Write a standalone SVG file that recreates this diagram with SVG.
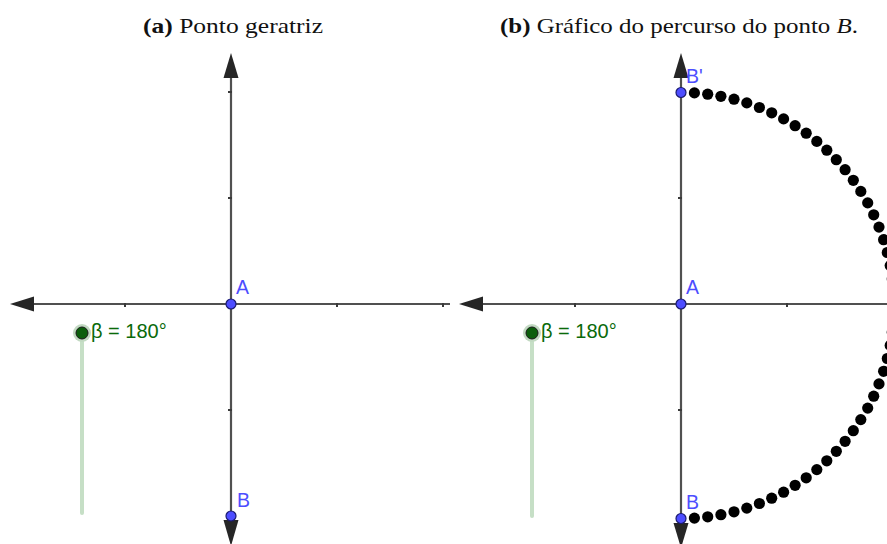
<svg xmlns="http://www.w3.org/2000/svg" width="887" height="544" viewBox="0 0 887 544">
<style>
.title{font-family:"Liberation Serif","DejaVu Serif",serif;font-size:21px;fill:#111}
.axis{stroke:#505050;stroke-width:2.2;fill:none}
.tick{stroke:#3a3a3a;stroke-width:2}
.head{fill:#262626}
.pt{fill:#4d4dff;stroke:#1a1a70;stroke-width:1.2}
.lbl{font-family:"Liberation Sans",Arial,sans-serif;font-size:19.5px;fill:#4d4dff}
.sl{stroke:#c6dfc6;stroke-width:4;stroke-linecap:round}
.halo{fill:#c2d9c2}
.spt{fill:#0b5e0b;stroke:#1a1a1a;stroke-width:1}
.stxt{font-family:"Liberation Sans",Arial,sans-serif;font-size:20px;fill:#0a6a0a}
.dot{fill:#000}
</style>
<defs>
<circle id="d" r="5.6" class="dot"/>
</defs>

<g id="titles">
<text class="title" x="233" y="33" text-anchor="middle" textLength="180" lengthAdjust="spacingAndGlyphs"><tspan font-weight="bold">(a)</tspan> Ponto geratriz</text>
<text class="title" x="679" y="33" text-anchor="middle" textLength="358" lengthAdjust="spacingAndGlyphs"><tspan font-weight="bold">(b)</tspan> Gráfico do percurso do ponto <tspan font-style="italic">B</tspan>.</text>
</g>

<g id="connectors">
<line class="axis" x1="231" y1="70" x2="231" y2="525"/>
<line class="axis" x1="28" y1="304" x2="450" y2="304"/>
<polygon class="head" points="231,53 223.5,78 238.5,78"/>
<polygon class="head" points="223.5,520 238.5,520 231,546"/>
<polygon class="head" points="10,304 34,296.5 34,311.5"/>
<line class="tick" x1="125" y1="303" x2="125" y2="307"/>
<line class="tick" x1="337" y1="303" x2="337" y2="307"/>
<line class="tick" x1="443" y1="303" x2="443" y2="307"/>
<line class="tick" x1="228" y1="92" x2="232" y2="92"/>
<line class="tick" x1="228" y1="198" x2="232" y2="198"/>
<line class="tick" x1="228" y1="410" x2="232" y2="410"/>
<line class="axis" x1="681" y1="70" x2="681" y2="528"/>
<line class="axis" x1="476" y1="304" x2="887" y2="304"/>
<polygon class="head" points="681,53 673.5,78 688.5,78"/>
<polygon class="head" points="673.5,523 688.5,523 681,548"/>
<polygon class="head" points="459,304 483,296.5 483,311.5"/>
<line class="tick" x1="575" y1="303" x2="575" y2="307"/>
<line class="tick" x1="787" y1="303" x2="787" y2="307"/>
<line class="tick" x1="678" y1="198" x2="682" y2="198"/>
<line class="tick" x1="678" y1="410" x2="682" y2="410"/>
</g>

<g id="trace">
<use href="#d" x="694.4" y="92.9"/><use href="#d" x="707.7" y="94.2"/><use href="#d" x="720.9" y="96.3"/><use href="#d" x="734.0" y="99.2"/>
<use href="#d" x="746.8" y="102.9"/><use href="#d" x="759.4" y="107.5"/><use href="#d" x="771.7" y="112.8"/><use href="#d" x="783.6" y="118.9"/>
<use href="#d" x="795.1" y="125.7"/><use href="#d" x="806.2" y="133.2"/><use href="#d" x="816.8" y="141.4"/><use href="#d" x="826.8" y="150.2"/>
<use href="#d" x="836.3" y="159.7"/><use href="#d" x="845.1" y="169.7"/><use href="#d" x="853.3" y="180.3"/><use href="#d" x="860.8" y="191.4"/>
<use href="#d" x="867.7" y="202.9"/><use href="#d" x="873.7" y="214.8"/><use href="#d" x="879.0" y="227.1"/><use href="#d" x="883.6" y="239.7"/>
<use href="#d" x="887.3" y="252.5"/><use href="#d" x="890.2" y="265.6"/><use href="#d" x="892.3" y="278.8"/>
<use href="#d" x="694.4" y="518.1"/><use href="#d" x="707.7" y="516.8"/><use href="#d" x="720.9" y="514.7"/><use href="#d" x="734.0" y="511.8"/>
<use href="#d" x="746.8" y="508.1"/><use href="#d" x="759.4" y="503.5"/><use href="#d" x="771.7" y="498.2"/><use href="#d" x="783.6" y="492.2"/>
<use href="#d" x="795.1" y="485.3"/><use href="#d" x="806.2" y="477.8"/><use href="#d" x="816.8" y="469.6"/><use href="#d" x="826.8" y="460.8"/>
<use href="#d" x="836.3" y="451.3"/><use href="#d" x="845.1" y="441.3"/><use href="#d" x="853.3" y="430.7"/><use href="#d" x="860.8" y="419.6"/>
<use href="#d" x="867.7" y="408.1"/><use href="#d" x="873.7" y="396.2"/><use href="#d" x="879.0" y="383.9"/><use href="#d" x="883.6" y="371.3"/>
<use href="#d" x="887.3" y="358.5"/><use href="#d" x="890.2" y="345.4"/><use href="#d" x="892.3" y="332.2"/>
</g>

<g id="sliderA">
<line class="sl" x1="82" y1="333" x2="82" y2="513"/>
<circle class="halo" cx="82" cy="333" r="9"/>
<circle class="spt" cx="82" cy="333" r="6"/>
<text class="stxt" x="91" y="338">β = 180°</text>
</g>
<g id="sliderB">
<line class="sl" x1="532" y1="333" x2="532" y2="516"/>
<circle class="halo" cx="532" cy="333" r="9"/>
<circle class="spt" cx="532" cy="333" r="6"/>
<text class="stxt" x="541" y="338">β = 180°</text>
</g>

<g id="pointA_left"><circle class="pt" cx="231" cy="304" r="5"/><text class="lbl" x="236" y="294">A</text></g>
<g id="pointB_left"><circle class="pt" cx="231" cy="516" r="5"/><text class="lbl" x="237" y="507">B</text></g>
<g id="pointA_right"><circle class="pt" cx="681" cy="304" r="5"/><text class="lbl" x="686" y="294">A</text></g>
<g id="pointB1_right"><circle class="pt" cx="681" cy="92.5" r="5"/><text class="lbl" x="686" y="83">B'</text></g>
<g id="pointB_right"><circle class="pt" cx="681" cy="518.5" r="5"/><text class="lbl" x="686" y="509">B</text></g>
</svg>
